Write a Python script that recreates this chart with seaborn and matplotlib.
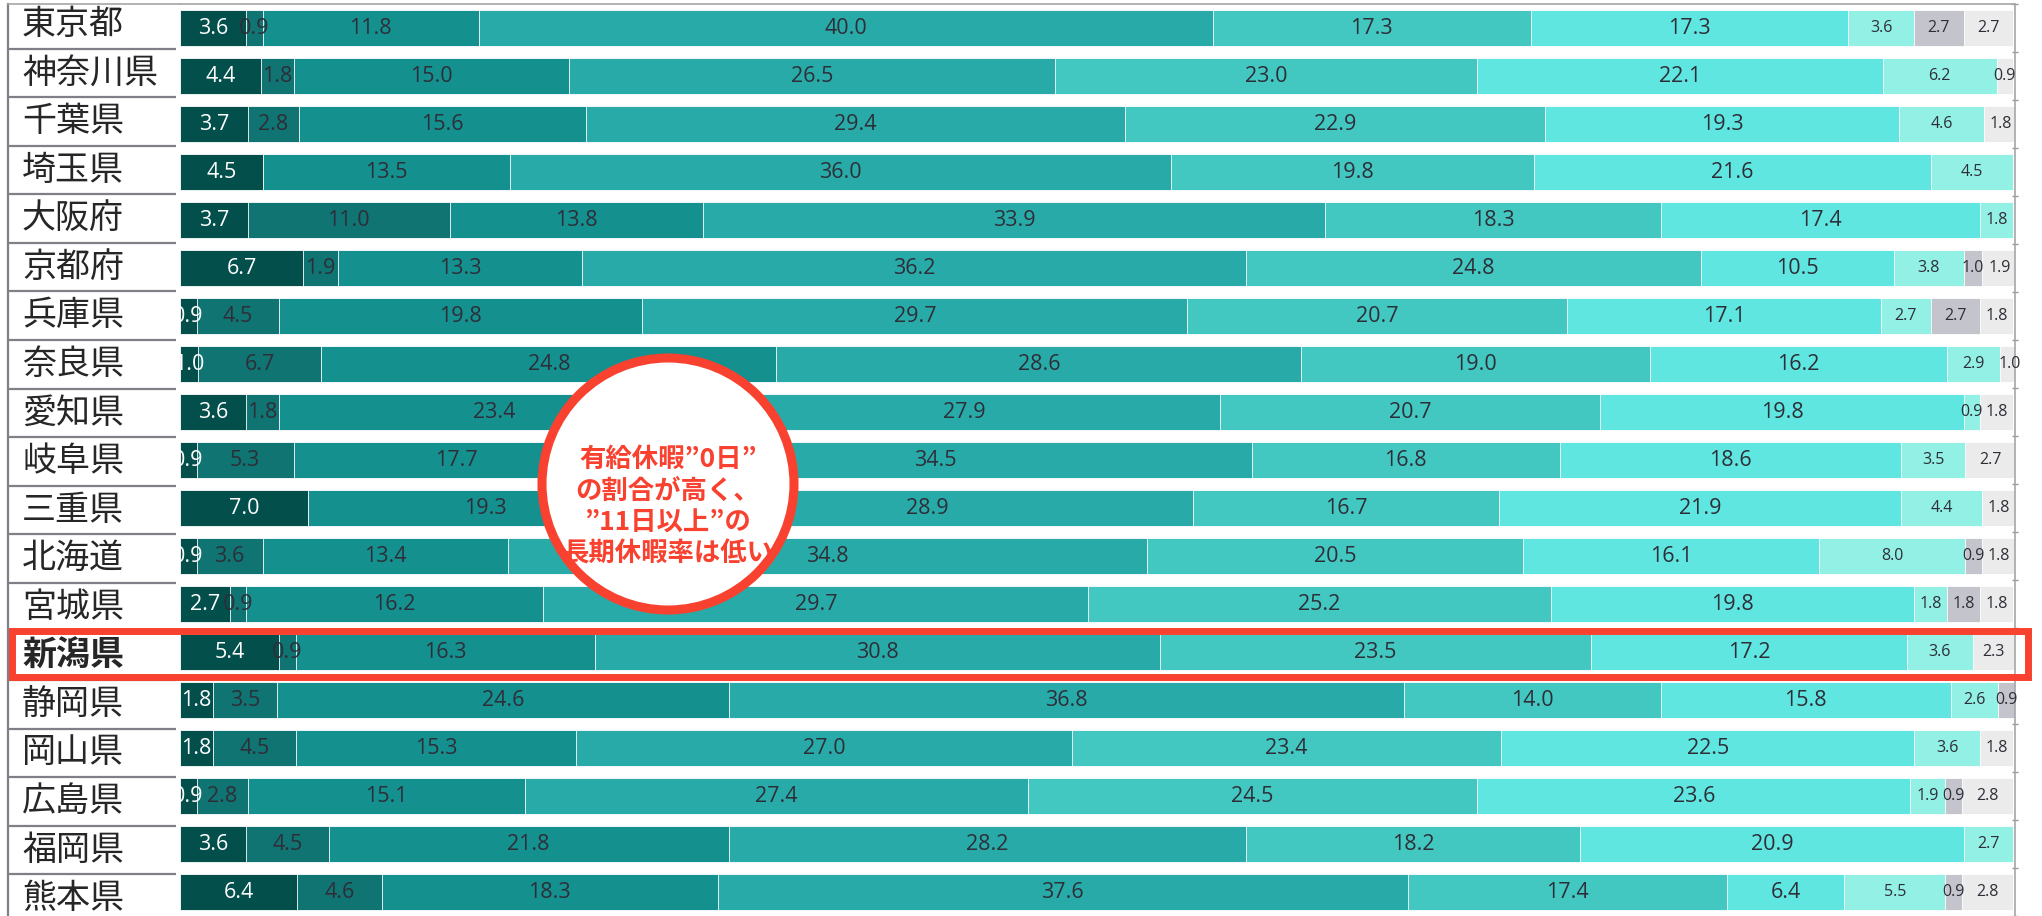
import numpy as np
import pandas as pd
import matplotlib
matplotlib.use("Agg")
import matplotlib.pyplot as plt
import seaborn as sns
from matplotlib.patches import Circle, Rectangle

prefectures = ["東京都", "神奈川県", "千葉県", "埼玉県", "大阪府", "京都府", "兵庫県",
               "奈良県", "愛知県", "岐阜県", "三重県", "北海道", "宮城県", "新潟県",
               "静岡県", "岡山県", "広島県", "福岡県", "熊本県"]

# share (%) of each answer band, from the left-most band to the right-most
band1 = [3.6, 4.4, 3.7, 4.5, 3.7, 6.7, 0.9, 1.0, 3.6, 0.9, 7.0, 0.9, 2.7, 5.4, 1.8, 1.8, 0.9, 3.6, 6.4]
band2 = [0.9, 1.8, 2.8, 0.0, 11.0, 1.9, 4.5, 6.7, 1.8, 5.3, 0.0, 3.6, 0.9, 0.9, 3.5, 4.5, 2.8, 4.5, 4.6]
band3 = [11.8, 15.0, 15.6, 13.5, 13.8, 13.3, 19.8, 24.8, 23.4, 17.7, 19.3, 13.4, 16.2, 16.3, 24.6, 15.3, 15.1, 21.8, 18.3]
band4 = [40.0, 26.5, 29.4, 36.0, 33.9, 36.2, 29.7, 28.6, 27.9, 34.5, 28.9, 34.8, 29.7, 30.8, 36.8, 27.0, 27.4, 28.2, 37.6]
band5 = [17.3, 23.0, 22.9, 19.8, 18.3, 24.8, 20.7, 19.0, 20.7, 16.8, 16.7, 20.5, 25.2, 23.5, 14.0, 23.4, 24.5, 18.2, 17.4]
band6 = [17.3, 22.1, 19.3, 21.6, 17.4, 10.5, 17.1, 16.2, 19.8, 18.6, 21.9, 16.1, 19.8, 17.2, 15.8, 22.5, 23.6, 20.9, 6.4]
band7 = [3.6, 6.2, 4.6, 4.5, 1.8, 3.8, 2.7, 2.9, 0.9, 3.5, 4.4, 8.0, 1.8, 3.6, 2.6, 3.6, 1.9, 2.7, 5.5]
band8 = [2.7, 0.0, 0.0, 0.0, 0.0, 1.0, 2.7, 0.0, 0.0, 0.0, 0.0, 0.9, 1.8, 0.0, 0.9, 0.0, 0.9, 0.0, 0.9]
band9 = [2.7, 0.9, 1.8, 0.0, 0.0, 1.9, 1.8, 1.0, 1.8, 2.7, 1.8, 1.8, 1.8, 2.3, 0.0, 1.8, 2.8, 0.0, 2.8]

band_colors = ["#024f4c", "#0f7472", "#14908f", "#28aba8", "#43c8c1",
               "#60e6e0", "#92f0e4", "#c4c4cc", "#ebebeb"]

highlight = "新潟県"
callout = "有給休暇”0日”\nの割合が高く、\n”11日以上”の\n長期休暇率は低い"

sns.set_theme(style="white")
plt.rcParams["font.family"] = ["Open Sans", "Noto Sans CJK JP", "DejaVu Sans"]

bands = [band1, band2, band3, band4, band5, band6, band7, band8, band9]
names = [f"band{k + 1}" for k in range(len(bands))]
df = pd.DataFrame(dict(zip(names, bands)), index=prefectures)
cum = df.cumsum(axis=1)
n = len(prefectures)

W, H = 2042, 916
fig = plt.figure(figsize=(W / 100, H / 100), dpi=100)
fig.patch.set_facecolor("white")

top_frac = (H - 4) / H
ylim = (18.36, -0.42)

# stacked bars: draw cumulative totals from the longest down to the shortest
ax = fig.add_axes([180 / W, 0, (2015 - 180) / W, top_frac])
for k in reversed(range(len(bands))):
    part = pd.DataFrame({"pref": prefectures, "total": cum.iloc[:, k].values})
    sns.barplot(data=part, x="total", y="pref", order=prefectures, orient="h",
                color=band_colors[k], saturation=1, width=0.76,
                edgecolor="white", linewidth=0.6, ax=ax)

for k in range(len(bands)):
    lefts = (cum.iloc[:, k] - df.iloc[:, k]).values
    vals = df.iloc[:, k].values
    for i, (l, v) in enumerate(zip(lefts, vals)):
        if v <= 0:
            continue
        ax.text(l + v / 2, i, f"{v:.1f}", ha="center", va="center",
                fontsize=11.5 if k >= 6 else 15.5,
                color="white" if k == 0 else "#2e2e38")

ax.set_xlim(0, 100)
ax.set_ylim(*ylim)
ax.set_xlabel("")
ax.set_ylabel("")
ax.set_xticks([])
ax.set_yticks(np.arange(-0.5, n), minor=True)
ax.tick_params(axis="y", which="major", left=False, right=False,
               labelleft=False, labelright=False)
ax.tick_params(axis="y", which="minor", left=False, right=True, length=5,
               width=1, direction="inout", color="#9a9a9a")
for side in ("left", "bottom"):
    ax.spines[side].set_visible(False)
for side in ("top", "right"):
    ax.spines[side].set_visible(True)
    ax.spines[side].set_color("#a6a6a6")
    ax.spines[side].set_linewidth(1.2)

# label column with row separators
lab = fig.add_axes([8 / W, 0, (180 - 8) / W, top_frac])
lab.set_xlim(0, 172)
lab.set_ylim(*ylim)
lab.hlines(np.arange(n - 1) + 0.5, 0, 168, colors="#7f7f88", lw=1.6)
for i, name in enumerate(prefectures):
    lab.text(14, i, name, ha="left", va="center", fontsize=24.5,
             family=["Noto Sans CJK JP", "DejaVu Sans"],
             weight="bold" if name == highlight else "normal", color="#262626")
lab.set_xticks([])
lab.set_yticks([])
for side in ("right", "bottom"):
    lab.spines[side].set_visible(False)
lab.spines["left"].set_color("#7f7f88")
lab.spines["left"].set_linewidth(1.6)
lab.spines["top"].set_color("#a6a6a6")
lab.spines["top"].set_linewidth(1.2)
lab.patch.set_alpha(0)

# overlay in pixel units for the highlight frame and the callout bubble
ov = fig.add_axes([0, 0, 1, 1], zorder=10)
ov.set_xlim(0, W)
ov.set_ylim(0, H)
ov.axis("off")
ov.patch.set_alpha(0)

red = "#f8412f"
row_y = ax.transData.transform((0, prefectures.index(highlight)))[1] - 2
ov.add_patch(Rectangle((12, row_y - 23), 2016, 46, fill=False,
                       edgecolor=red, lw=5, zorder=5))

cx, cy = 668, H - 484
ov.add_patch(Circle((cx, cy), 126, facecolor="white", edgecolor=red,
                    lw=6.5, zorder=6))
ov.text(cx, H - 507, callout, ha="center", va="center", fontsize=19,
        weight="bold", color=red, linespacing=1.22,
        family=["Noto Sans CJK JP", "DejaVu Sans"], zorder=7)

fig.savefig("out.png", dpi=100, facecolor="white")
